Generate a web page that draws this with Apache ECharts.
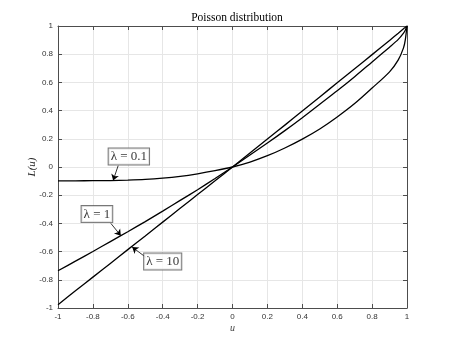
<!DOCTYPE html>
<html>
<head>
<meta charset="utf-8">
<script src="https://cdn.jsdelivr.net/npm/echarts@6/dist/echarts.min.js"></script>
<style>
html,body{margin:0;padding:0;background:#fff;}
#c{width:450px;height:346px;}
</style>
</head>
<body>
<div id="c"></div>
<script>
// ---- data ----
const uValues = [-1,-0.9,-0.8,-0.7,-0.6,-0.5,-0.4,-0.3,-0.2,-0.1,0,0.1,0.2,0.3,0.4,0.5,0.6,0.7,0.8,0.9,0.95,0.98,0.99,1];
const lambda01 = [-0.098,-0.098,-0.097,-0.096,-0.093,-0.088,-0.079,-0.066,-0.048,-0.026,0,0.035,0.08,0.135,0.198,0.27,0.355,0.45,0.56,0.675,0.76,0.845,0.9,1];
const lambda1  = [-0.736,-0.668,-0.599,-0.529,-0.459,-0.387,-0.313,-0.237,-0.161,-0.082,0,0.085,0.17,0.258,0.35,0.445,0.54,0.64,0.745,0.85,0.905,0.95,0.97,1];
const lambda10 = [-0.977,-0.878,-0.781,-0.684,-0.586,-0.489,-0.391,-0.293,-0.195,-0.098,0,0.099,0.198,0.297,0.397,0.497,0.597,0.697,0.797,0.898,0.949,0.98,0.99,1];
const seriesNames = ['λ = 0.1','λ = 1','λ = 10'];
// annotation anchors (data coordinates): box centre, arrow tail, arrow tip
const annotations = [
  {text: seriesNames[0], box: [-0.594, 0.075], tail: [-0.655, 0.01], tip: [-0.684, -0.095]},
  {text: seriesNames[1], box: [-0.777, -0.334], tail: [-0.697, -0.40], tip: [-0.64, -0.487]},
  {text: seriesNames[2], box: [-0.40, -0.671], tail: [-0.497, -0.64], tip: [-0.575, -0.568]}
];

const pair = (xs, ys) => xs.map((x, i) => [x, ys[i]]);
const fmt = v => String(Math.round(v * 10) / 10);
const axisCol = '#4d4d4d';
const tickFont = {fontFamily: 'Liberation Sans, Arial, sans-serif', fontSize: 8, color: '#333'};

const baseAxis = (extra) => Object.assign({
  type: 'value', min: -1, max: 1, interval: 0.2,
  axisLine: {show: true, onZero: false, lineStyle: {color: axisCol, width: 1}},
  axisTick: {show: true, inside: true, length: 4, lineStyle: {color: axisCol, width: 1}},
  splitLine: {show: false}
}, extra);

const chart = echarts.init(document.getElementById('c'), null, {renderer: 'canvas'});
const curveStyle = {color: '#000', width: 1.3};
const option = {
  animation: false,
  backgroundColor: '#fff',
  title: {
    text: 'Poisson distribution', left: 232, top: 7, textAlign: 'center',
    textStyle: {fontFamily: 'Liberation Serif, Times New Roman, serif', fontSize: 11.5, fontWeight: 'normal', color: '#000'}
  },
  grid: {left: 58, right: 43, top: 26, bottom: 38, show: false},
  xAxis: [
    baseAxis({position: 'bottom',
      name: 'u', nameLocation: 'middle', nameGap: 15, nameMoveOverlap: false,
      nameTextStyle: {fontFamily: 'Liberation Serif, serif', fontStyle: 'italic', fontSize: 10, color: '#444'},
      axisLabel: Object.assign({formatter: fmt, margin: 5}, tickFont),
      splitLine: {show: true, lineStyle: {color: '#e6e6e6', width: 1}}}),
    baseAxis({position: 'top', axisLabel: {show: false}})
  ],
  yAxis: [
    baseAxis({position: 'left',
      name: 'L(u)', nameLocation: 'middle', nameGap: 20, nameRotate: 90, nameMoveOverlap: false,
      nameTextStyle: {fontFamily: 'Liberation Serif, serif', fontStyle: 'italic', fontSize: 11, color: '#222'},
      axisLabel: Object.assign({formatter: fmt, margin: 5}, tickFont),
      splitLine: {show: true, lineStyle: {color: '#e6e6e6', width: 1}}}),
    baseAxis({position: 'right', axisLabel: {show: false}})
  ],
  series: [
    {type: 'line', name: seriesNames[0], data: pair(uValues, lambda01), showSymbol: false, smooth: 0.3, lineStyle: curveStyle, z: 3},
    {type: 'line', name: seriesNames[1], data: pair(uValues, lambda1), showSymbol: false, smooth: 0.3, lineStyle: curveStyle, z: 3},
    {type: 'line', name: seriesNames[2], data: pair(uValues, lambda10), showSymbol: false, smooth: 0.3, lineStyle: curveStyle, z: 3},
    {type: 'lines', coordinateSystem: 'cartesian2d', z: 5,
      symbol: ['none', 'arrow'], symbolSize: 6,
      lineStyle: {color: '#000', width: 0.8, opacity: 1},
      data: annotations.map(a => ({coords: [a.tail, a.tip]}))},
    {type: 'scatter', symbolSize: 0, itemStyle: {color: 'rgba(0,0,0,0)'}, z: 6, silent: true,
      data: annotations.map(a => ({value: a.box, label: {formatter: a.text}})),
      label: {show: true, position: 'inside',
        fontFamily: 'Liberation Serif, Times New Roman, serif', fontSize: 13, color: '#000',
        backgroundColor: '#fff', borderColor: '#555', borderWidth: 1, padding: [2, 2, 1, 2]}}
  ]
};
chart.setOption(option);
</script>
</body>
</html>
